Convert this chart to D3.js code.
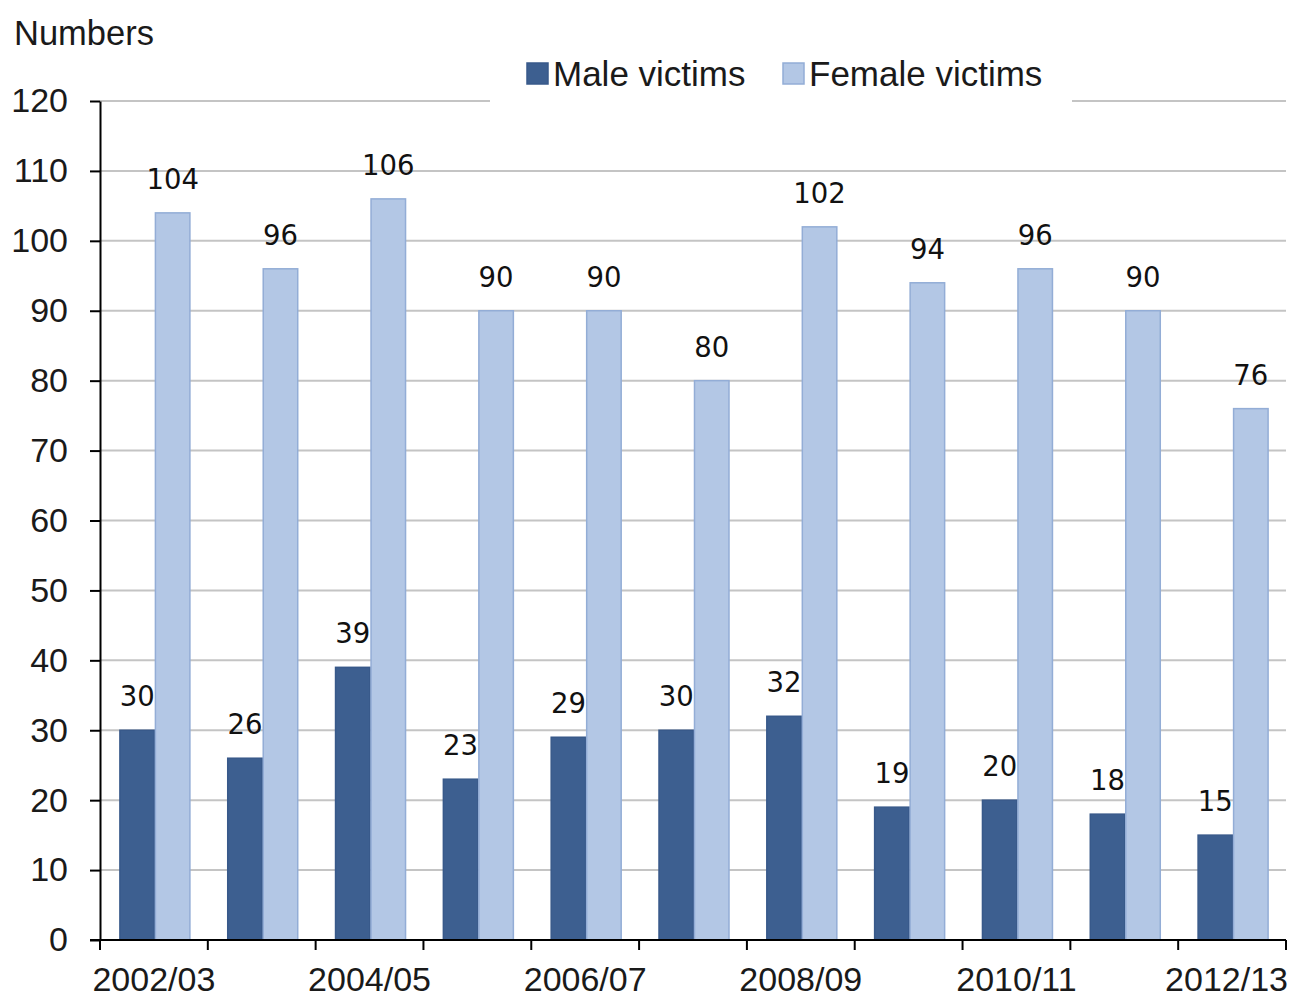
<!DOCTYPE html>
<meta charset="utf-8">
<head>
  <title>Male and female victims</title>
</head>
<style>
body { margin: 0; background: #fff; }
.grid line { stroke: #c4c4c4; stroke-width: 2px; }
.axis path, .axis line { stroke: #000; stroke-width: 2px; }
.axis text { font-family: "Liberation Sans", Arial, sans-serif; font-size: 34px; fill: #1a1a1a; }
.lbl { font-family: "DejaVu Sans", Verdana, sans-serif; font-size: 27.5px; fill: #111; text-anchor: middle; }
.legend text { font-family: "Liberation Sans", Arial, sans-serif; font-size: 35px; fill: #1a1a1a; }
</style>
<body>
<svg width="1292" height="999"></svg>
<script src="https://cdnjs.cloudflare.com/ajax/libs/d3/7.8.5/d3.min.js"></script>
<script>
var years = ["2002/03","2003/04","2004/05","2005/06","2006/07","2007/08","2008/09","2009/10","2010/11","2011/12","2012/13"];
var male = [30, 26, 39, 23, 29, 30, 32, 19, 20, 18, 15];
var female = [104, 96, 106, 90, 90, 80, 102, 94, 96, 90, 76];
var series = ["Male victims", "Female victims"];
var colors = ["#3d5f90", "#b3c7e5"];
var strokes = ["#38598a", "#93add6"];
var yTicks = d3.range(0, 121, 10);

var svg = d3.select("svg");
var plotL = 100, plotR = 1286, plotT = 101, plotB = 940;

// one band per year, the pair of bars sits centred in it
var x0 = d3.scaleBand().domain(years).range([plotL, plotR]);
var x1 = d3.scaleBand().domain(series).range([0, 71]);
var y = d3.scaleLinear().domain([0, 120]).range([plotB, plotT]);

// gridlines
svg.append("g").attr("class", "grid")
  .selectAll("line").data(yTicks.slice(1)).enter().append("line")
  .attr("x1", plotL).attr("x2", plotR)
  .attr("y1", function(d) { return y(d); }).attr("y2", function(d) { return y(d); });

// bars
var groups = svg.append("g").selectAll("g").data(years).enter().append("g")
  .attr("transform", function(d) { return "translate(" + (x0(d) + (x0.bandwidth() - 71) / 2 + 1) + ",0)"; });

[male, female].forEach(function(vals, s) {
  groups.append("rect")
    .attr("x", x1(series[s]) + 0.5)
    .attr("width", x1.bandwidth() - 1)
    .attr("y", function(d, i) { return y(vals[i]); })
    .attr("height", function(d, i) { return plotB - y(vals[i]); })
    .attr("fill", colors[s])
    .attr("stroke", strokes[s])
    .attr("stroke-width", 1.5);
  groups.append("text").attr("class", "lbl")
    .attr("x", x1(series[s]) + x1.bandwidth() / 2)
    .attr("y", function(d, i) { return y(vals[i]) - 24; })
    .text(function(d, i) { return vals[i]; });
});

// y axis
svg.append("g").attr("class", "axis")
  .attr("transform", "translate(" + plotL + ",0)")
  .call(d3.axisLeft(y).tickValues(yTicks).tickSize(10).tickPadding(22).tickSizeOuter(0));

// x axis
var xEdges = d3.scaleLinear().domain([0, years.length]).range([plotL, plotR]);
var xAxis = svg.append("g").attr("class", "axis")
  .attr("transform", "translate(0," + plotB + ")");
xAxis.append("line").attr("x1", plotL - 10).attr("x2", plotR).attr("y1", 0).attr("y2", 0);
xAxis.selectAll("line.tk").data(d3.range(0, years.length + 1)).enter().append("line")
  .attr("class", "tk")
  .attr("x1", function(d) { return xEdges(d); }).attr("x2", function(d) { return xEdges(d); })
  .attr("y1", 0).attr("y2", 10);
xAxis.selectAll("text").data(years.filter(function(d, i) { return i % 2 === 0; })).enter().append("text")
  .attr("x", function(d) { return x0(d) + x0.bandwidth() / 2; })
  .attr("y", 51)
  .attr("text-anchor", "middle")
  .text(function(d) { return d; })
  .each(function() {
    // keep the last label inside the picture, as the original does
    var w = this.getComputedTextLength();
    var cx = +this.getAttribute("x");
    if (cx + w / 2 > 1288) this.setAttribute("x", 1288 - w / 2);
  });

// title
svg.append("text").attr("x", 14).attr("y", 45)
  .style("font-family", "Liberation Sans, Arial, sans-serif").style("font-size", "34.5px").style("fill", "#1a1a1a")
  .text("Numbers");

// legend
var legend = svg.append("g").attr("class", "legend");
legend.append("rect").attr("x", 490).attr("y", 50).attr("width", 582).attr("height", 60).attr("fill", "#fff");
var legX = [527, 783];
series.forEach(function(s, i) {
  legend.append("rect").attr("x", legX[i]).attr("y", 63).attr("width", 21).attr("height", 21)
    .attr("fill", colors[i]).attr("stroke", strokes[i]).attr("stroke-width", 1.5);
  legend.append("text").attr("x", legX[i] + 26).attr("y", 86).text(s);
});
</script>
</body>
</html>
